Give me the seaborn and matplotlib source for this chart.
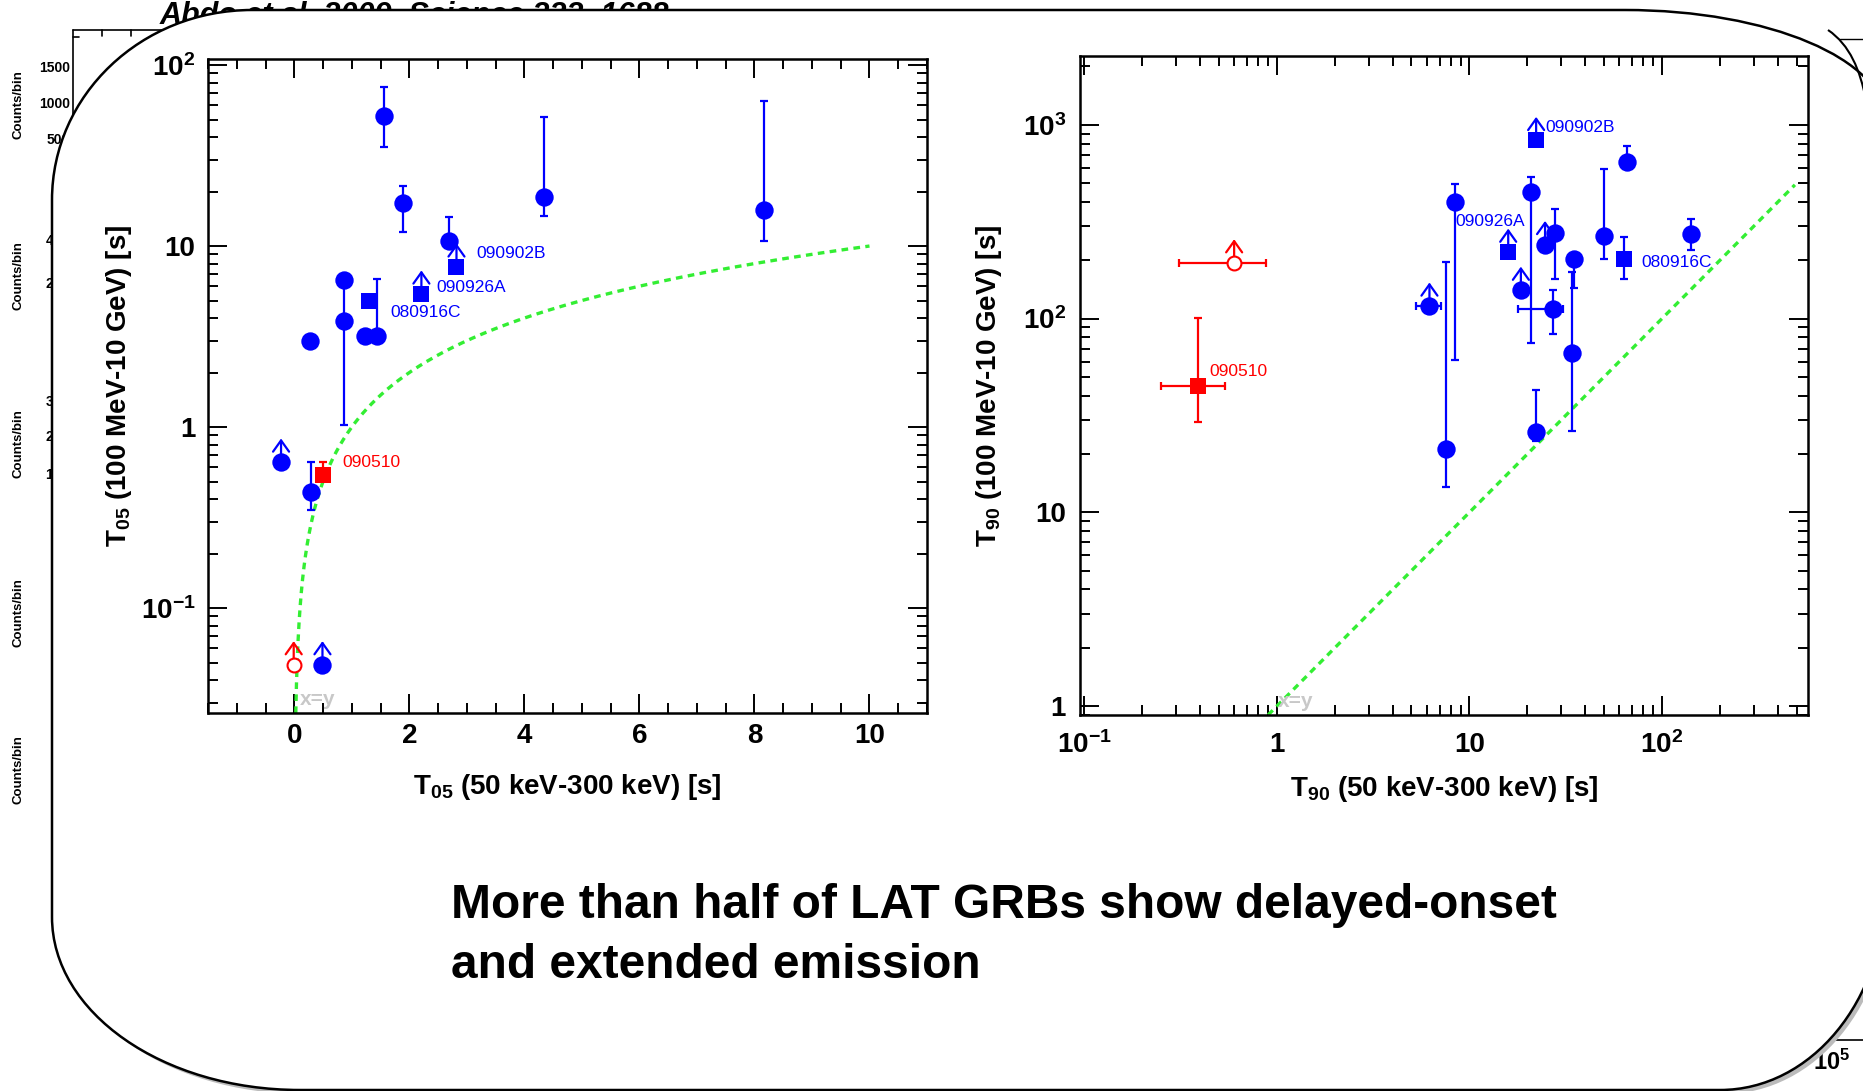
import numpy as np
import matplotlib
matplotlib.use("Agg")
import matplotlib.pyplot as plt
import matplotlib.transforms as mtransforms
from matplotlib.path import Path
from matplotlib.patches import PathPatch
from matplotlib.lines import Line2D
from matplotlib.ticker import MultipleLocator, LogLocator, FuncFormatter, NullFormatter
import seaborn as sns

# ---------------- data ----------------
# Left panel: T05 (50-300 keV) vs T05 (100 MeV-10 GeV)
t05_circ_x = [-0.23, 0.29, 0.28, 0.86, 0.86, 1.23, 1.43, 1.56, 1.89, 2.69, 4.35, 8.17, 0.49]
t05_circ_y = [0.64, 0.44, 3.0, 6.5, 3.86, 3.18, 3.18, 52.4, 17.3, 10.6, 18.7, 15.9, 0.0486]
t05_circ_lo = [np.nan, 0.35, np.nan, np.nan, 1.02, np.nan, 3.18, 35.3, 12.0, 10.6, 14.7, 10.6, np.nan]
t05_circ_hi = [np.nan, 0.64, np.nan, np.nan, 6.5, np.nan, 6.57, 75.5, 21.6, 14.4, 51.4, 63.5, np.nan]
t05_circ_lim = [1, 0, 0, 0, 0, 0, 0, 0, 0, 0, 0, 0, 1]

t05_sq_x = [1.30, 2.21, 2.82]
t05_sq_y = [4.97, 5.43, 7.66]
t05_sq_lim = [0, 1, 1]
t05_sq_names = ["080916C", "090926A", "090902B"]

t05_red_x = [0.50]
t05_red_y = [0.54]
t05_red_lo = [0.54]
t05_red_hi = [0.64]
t05_red_open_x = [-0.01]
t05_red_open_y = [0.0486]

# Right panel: T90 (50-300 keV) vs T90 (100 MeV-10 GeV)
t90_circ_x = [6.2, 7.55, 8.4, 18.5, 21.0, 22.2, 24.7, 27.9, 27.2, 34.1, 35.1, 50.0, 65.5, 141.0]
t90_circ_y = [116, 21.2, 398, 140, 451, 26.1, 241, 275, 112.5, 66.3, 204, 266, 640, 272]
t90_circ_ylo = [np.nan, 13.5, 61, np.nan, 75, 23.4, np.nan, 161, 83, 26.4, 143, 204, 640, 227]
t90_circ_yhi = [np.nan, 195, 497, np.nan, 536, 43, np.nan, 366, 140, 174, 204, 591, 780, 327]
t90_circ_xlo = [5.3, np.nan, np.nan, np.nan, np.nan, np.nan, np.nan, np.nan, 17.8, np.nan, np.nan, np.nan, np.nan, np.nan]
t90_circ_xhi = [7.1, np.nan, np.nan, np.nan, np.nan, np.nan, np.nan, np.nan, 30.6, np.nan, np.nan, np.nan, np.nan, np.nan]
t90_circ_lim = [1, 0, 0, 1, 0, 0, 1, 0, 0, 0, 0, 0, 0, 0]

t90_sq_x = [15.9, 22.2, 63.3]
t90_sq_y = [220, 830, 204]
t90_sq_ylo = [np.nan, np.nan, 161]
t90_sq_yhi = [np.nan, np.nan, 263]
t90_sq_lim = [1, 1, 0]
t90_sq_names = ["090926A", "090902B", "080916C"]

t90_red_x = [0.39]
t90_red_y = [45]
t90_red_xlo = [0.25]
t90_red_xhi = [0.54]
t90_red_ylo = [29.4]
t90_red_yhi = [101]
t90_red_open_x = [0.60]
t90_red_open_y = [194]
t90_red_open_xlo = [0.31]
t90_red_open_xhi = [0.88]

# label offsets (points) for the annotated bursts
left_label_off = {"080916C": (15, -8), "090926A": (11, 5), "090902B": (14, 10), "090510": (14, 9)}
right_label_off = {"090926A": (-38, 22), "090902B": (7, 9), "080916C": (13, -3), "090510": (8, 10)}

left_xticks = [0, 2, 4, 6, 8, 10]
caption_lines = ["More than half of LAT GRBs show delayed-onset", "and extended emission"]

# ---------------- style ----------------
W, H = 1863, 1091
sns.set_theme(style="ticks")
plt.rcParams["font.family"] = ["Liberation Sans", "DejaVu Sans"]
plt.rcParams["font.weight"] = "bold"
plt.rcParams["axes.labelweight"] = "bold"
plt.rcParams["text.color"] = "black"
plt.rcParams["axes.labelcolor"] = "black"
plt.rcParams["mathtext.fontset"] = "custom"
plt.rcParams["mathtext.rm"] = "Liberation Sans:bold"
plt.rcParams["mathtext.it"] = "Liberation Sans:bold"
plt.rcParams["mathtext.bf"] = "Liberation Sans:bold"
plt.rcParams["axes.edgecolor"] = "black"
plt.rcParams["xtick.color"] = "black"
plt.rcParams["ytick.color"] = "black"

BLUE = "#0000ff"
RED = "#ff0000"
GREEN = "#33ee33"

fig = plt.figure(figsize=(W / 100, H / 100), dpi=100)
fig.patch.set_facecolor("white")


def fpt(x, y):
    return (x / W, 1 - y / H)


# ---------------- slide background ----------------
fig.text(*fpt(160, 1), "Abdo et al. 2009, Science 323, 1688", fontsize=22,
         style="italic", weight="bold", ha="left", va="top", zorder=-3)
for yc in [105, 276, 444, 613, 770]:
    fig.text(*fpt(18, yc), "Counts/bin", fontsize=9.5, rotation=90,
             ha="center", va="center", zorder=-3)
for txt, xr, yc in [("1500", 70, 68), ("1000", 70, 104), ("500", 70, 140),
                    ("4", 53, 241), ("2", 53, 284), ("3", 53, 402), ("2", 53, 437), ("1", 53, 475)]:
    fig.text(*fpt(xr, yc), txt, fontsize=10, ha="right", va="center", zorder=-3)
for (xa, ya), (xb, yb) in [((73, 30), (73, 400)), ((73, 30), (400, 30)),
                           ((102, 30), (102, 36)), ((131, 30), (131, 36)),
                           ((73, 37), (79, 37))]:
    fig.add_artist(Line2D([xa / W, xb / W], [1 - ya / H, 1 - yb / H],
                          transform=fig.transFigure, color="black", lw=1.2, zorder=-3))


def rrect(x0, y0, x1, y1, tl, tr, br, bl):
    k = 0.5523
    pts = [
        (x0 + tl[0], y0), (x1 - tr[0], y0),
        (x1 - tr[0] + k * tr[0], y0), (x1, y0 + tr[1] - k * tr[1]), (x1, y0 + tr[1]),
        (x1, y1 - br[1]),
        (x1, y1 - br[1] + k * br[1]), (x1 - br[0] + k * br[0], y1), (x1 - br[0], y1),
        (x0 + bl[0], y1),
        (x0 + bl[0] - k * bl[0], y1), (x0, y1 - bl[1] + k * bl[1]), (x0, y1 - bl[1]),
        (x0, y0 + tl[1]),
        (x0, y0 + tl[1] - k * tl[1]), (x0 + tl[0] - k * tl[0], y0), (x0 + tl[0], y0),
    ]
    codes = [Path.MOVETO, Path.LINETO,
             Path.CURVE4, Path.CURVE4, Path.CURVE4,
             Path.LINETO,
             Path.CURVE4, Path.CURVE4, Path.CURVE4,
             Path.LINETO,
             Path.CURVE4, Path.CURVE4, Path.CURVE4,
             Path.LINETO,
             Path.CURVE4, Path.CURVE4, Path.CURVE4]
    return Path([fpt(*p) for p in pts], codes)


corners = ((200, 190), (260, 110), (165, 200), (248, 173))
shadow = PathPatch(rrect(56, 14, 1889, 1094, *corners),
                   transform=fig.transFigure, facecolor="#bbbbbb", edgecolor="none", zorder=-2.5)
fig.add_artist(shadow)
panel = PathPatch(rrect(52, 10, 1885, 1090, *corners),
                  transform=fig.transFigure, facecolor="white", edgecolor="black", lw=1.8, zorder=-2)
fig.add_artist(panel)
arc = Path([fpt(1828, 30), fpt(1850, 45), fpt(1860, 70), fpt(1866, 100)],
           [Path.MOVETO, Path.CURVE4, Path.CURVE4, Path.CURVE4])
fig.add_artist(PathPatch(arc, transform=fig.transFigure, facecolor="none",
                         edgecolor="black", lw=1.5, zorder=-1))
fig.add_artist(Line2D([1840 / W, 1.0], [1 - 39 / H, 1 - 39 / H], transform=fig.transFigure,
                      color="black", lw=1.0, zorder=-1))
fig.add_artist(Line2D([1817 / W, 1.0], [1 - 1040 / H, 1 - 1040 / H], transform=fig.transFigure,
                      color="black", lw=1.2, zorder=-3))
fig.text(*fpt(1832, 1062), r"10$^{5}$", fontsize=17, ha="center", va="center", zorder=-3)

# ---------------- axes ----------------
axL = fig.add_axes([208 / W, 1 - 713 / H, (927 - 208) / W, (713 - 59) / H])
axR = fig.add_axes([1080 / W, 1 - 715 / H, (1808 - 1080) / W, (715 - 56) / H])


def log_fmt(v, pos):
    e = int(round(np.log10(v)))
    if e == 0:
        return "1"
    if e == 1:
        return "10"
    return r"10$^{%d}$" % e


def up_arrows(ax, xs, ys, color):
    trans = mtransforms.offset_copy(ax.transData, fig=fig, x=0, y=17, units="points")
    for x, y in zip(xs, ys):
        ax.annotate("", xy=(x, y), xycoords=trans, xytext=(x, y), textcoords="data",
                    arrowprops=dict(arrowstyle="->,head_length=0.45,head_width=0.32",
                                    color=color, lw=1.6, shrinkA=0, shrinkB=0,
                                    mutation_scale=18), zorder=2)


def err(ax, x, y, xlo=None, xhi=None, ylo=None, yhi=None, color=BLUE):
    x = np.asarray(x, float)
    y = np.asarray(y, float)
    if ylo is not None:
        lo = np.asarray(ylo, float)
        hi = np.asarray(yhi, float)
        m = ~np.isnan(lo)
        ax.errorbar(x[m], y[m], yerr=[y[m] - lo[m], hi[m] - y[m]], fmt="none",
                    ecolor=color, elinewidth=1.6, capsize=3, capthick=1.6, zorder=2)
    if xlo is not None:
        lo = np.asarray(xlo, float)
        hi = np.asarray(xhi, float)
        m = ~np.isnan(lo)
        ax.errorbar(x[m], y[m], xerr=[x[m] - lo[m], hi[m] - x[m]], fmt="none",
                    ecolor=color, elinewidth=1.6, capsize=3, capthick=1.6, zorder=2)


def style_axis(ax):
    ax.tick_params(which="both", direction="in", top=True, right=True, width=1.4,
                   labelsize=20, colors="black")
    ax.tick_params(which="major", length=14)
    ax.tick_params(which="minor", length=7)
    for s in ax.spines.values():
        s.set_linewidth(1.8)
        s.set_color("black")
    ax.set_facecolor("white")


CIRC_S = 175
SQ_S = 140

# ---- left panel ----
L_YLIM = (0.0263, 108)
identity_left = np.geomspace(L_YLIM[0], 10, 300)  # the x = y reference curve
sns.lineplot(x=identity_left, y=identity_left, ax=axL, color=GREEN, lw=2.4,
             linestyle=(0, (2, 1.6)), sort=False, estimator=None, zorder=1)
err(axL, t05_circ_x, t05_circ_y, ylo=t05_circ_lo, yhi=t05_circ_hi)
err(axL, t05_red_x, t05_red_y, ylo=t05_red_lo, yhi=t05_red_hi, color=RED)
sns.scatterplot(x=t05_circ_x, y=t05_circ_y, ax=axL, color=BLUE, marker="o", s=CIRC_S,
                linewidth=0, zorder=3, legend=False)
sns.scatterplot(x=t05_sq_x, y=t05_sq_y, ax=axL, color=BLUE, marker="s", s=SQ_S,
                linewidth=0, zorder=3, legend=False)
sns.scatterplot(x=t05_red_x, y=t05_red_y, ax=axL, color=RED, marker="s", s=SQ_S,
                linewidth=0, zorder=3, legend=False)
axL.plot(t05_red_open_x, t05_red_open_y, "o", mfc="white", mec=RED, mew=1.5, ms=10, zorder=3)
up_arrows(axL, [x for x, f in zip(t05_circ_x, t05_circ_lim) if f],
          [y for y, f in zip(t05_circ_y, t05_circ_lim) if f], BLUE)
up_arrows(axL, [x for x, f in zip(t05_sq_x, t05_sq_lim) if f],
          [y for y, f in zip(t05_sq_y, t05_sq_lim) if f], BLUE)
up_arrows(axL, t05_red_open_x, t05_red_open_y, RED)
for name, x, y in zip(t05_sq_names, t05_sq_x, t05_sq_y):
    axL.annotate(name, (x, y), xytext=left_label_off[name], textcoords="offset points",
                 color=BLUE, fontsize=12.5, weight="normal", ha="left", va="center")
axL.annotate("090510", (t05_red_x[0], t05_red_y[0]), xytext=left_label_off["090510"],
             textcoords="offset points", color=RED, fontsize=12.5, weight="normal",
             ha="left", va="center")
axL.set_yscale("log")
axL.set_xlim(-1.5, 11.0)
axL.set_ylim(*L_YLIM)
axL.xaxis.set_major_locator(MultipleLocator(2))
axL.xaxis.set_minor_locator(MultipleLocator(0.5))
axL.set_xticks(left_xticks)
axL.yaxis.set_major_locator(LogLocator(base=10))
axL.yaxis.set_minor_locator(LogLocator(base=10, subs=np.arange(2, 10)))
axL.yaxis.set_major_formatter(FuncFormatter(log_fmt))
axL.yaxis.set_minor_formatter(NullFormatter())
style_axis(axL)
axL.tick_params(axis="x", pad=7)
axL.tick_params(axis="y", pad=9)
axL.text(0.128, 0.006, "x=y", transform=axL.transAxes, color="#c8c8c8", fontsize=15,
         ha="left", va="bottom")
axL.set_xlabel(r"T$_{05}$ (50 keV-300 keV) [s]", fontsize=20)
axL.set_ylabel(r"T$_{05}$ (100 MeV-10 GeV) [s]", fontsize=20)
axL.xaxis.set_label_coords(0.5, -0.09)
axL.yaxis.set_label_coords(-0.103, 0.5)

# ---- right panel ----
R_XLIM = (0.095, 573)
R_YLIM = (0.90, 2265)
identity_right = [0.90, 490]  # x = y reference line end points
sns.lineplot(x=identity_right, y=identity_right, ax=axR, color=GREEN, lw=2.4,
             linestyle=(0, (2, 1.6)), sort=False, estimator=None, zorder=1)
err(axR, t90_circ_x, t90_circ_y, ylo=t90_circ_ylo, yhi=t90_circ_yhi,
    xlo=t90_circ_xlo, xhi=t90_circ_xhi)
err(axR, t90_sq_x, t90_sq_y, ylo=t90_sq_ylo, yhi=t90_sq_yhi)
err(axR, t90_red_x, t90_red_y, xlo=t90_red_xlo, xhi=t90_red_xhi,
    ylo=t90_red_ylo, yhi=t90_red_yhi, color=RED)
err(axR, t90_red_open_x, t90_red_open_y, xlo=t90_red_open_xlo, xhi=t90_red_open_xhi, color=RED)
sns.scatterplot(x=t90_circ_x, y=t90_circ_y, ax=axR, color=BLUE, marker="o", s=CIRC_S,
                linewidth=0, zorder=3, legend=False)
sns.scatterplot(x=t90_sq_x, y=t90_sq_y, ax=axR, color=BLUE, marker="s", s=SQ_S,
                linewidth=0, zorder=3, legend=False)
sns.scatterplot(x=t90_red_x, y=t90_red_y, ax=axR, color=RED, marker="s", s=SQ_S,
                linewidth=0, zorder=3, legend=False)
axR.plot(t90_red_open_x, t90_red_open_y, "o", mfc="white", mec=RED, mew=1.5, ms=10, zorder=3)
up_arrows(axR, [x for x, f in zip(t90_circ_x, t90_circ_lim) if f],
          [y for y, f in zip(t90_circ_y, t90_circ_lim) if f], BLUE)
up_arrows(axR, [x for x, f in zip(t90_sq_x, t90_sq_lim) if f],
          [y for y, f in zip(t90_sq_y, t90_sq_lim) if f], BLUE)
up_arrows(axR, t90_red_open_x, t90_red_open_y, RED)
for name, x, y in zip(t90_sq_names, t90_sq_x, t90_sq_y):
    axR.annotate(name, (x, y), xytext=right_label_off[name], textcoords="offset points",
                 color=BLUE, fontsize=12.5, weight="normal", ha="left", va="center")
axR.annotate("090510", (t90_red_x[0], t90_red_y[0]), xytext=right_label_off["090510"],
             textcoords="offset points", color=RED, fontsize=12.5, weight="normal",
             ha="left", va="center")
axR.set_xscale("log")
axR.set_yscale("log")
axR.set_xlim(*R_XLIM)
axR.set_ylim(*R_YLIM)
for axis in (axR.xaxis, axR.yaxis):
    axis.set_major_locator(LogLocator(base=10))
    axis.set_minor_locator(LogLocator(base=10, subs=np.arange(2, 10)))
    axis.set_major_formatter(FuncFormatter(log_fmt))
    axis.set_minor_formatter(NullFormatter())
style_axis(axR)
axR.tick_params(axis="x", pad=12)
axR.tick_params(axis="y", pad=10)
axR.text(0.272, 0.006, "x=y", transform=axR.transAxes, color="#c8c8c8", fontsize=15,
         ha="left", va="bottom")
axR.set_xlabel(r"T$_{90}$ (50 keV-300 keV) [s]", fontsize=20)
axR.set_ylabel(r"T$_{90}$ (100 MeV-10 GeV) [s]", fontsize=20)
axR.xaxis.set_label_coords(0.5, -0.09)
axR.yaxis.set_label_coords(-0.104, 0.5)

# ---------------- caption ----------------
fig.text(*fpt(451, 905), caption_lines[0], fontsize=34.5, weight="bold", color="black",
         ha="left", va="center")
fig.text(*fpt(451, 965), caption_lines[1], fontsize=34.5, weight="bold", color="black",
         ha="left", va="center")

fig.savefig("out.png", dpi=100, facecolor="white")
